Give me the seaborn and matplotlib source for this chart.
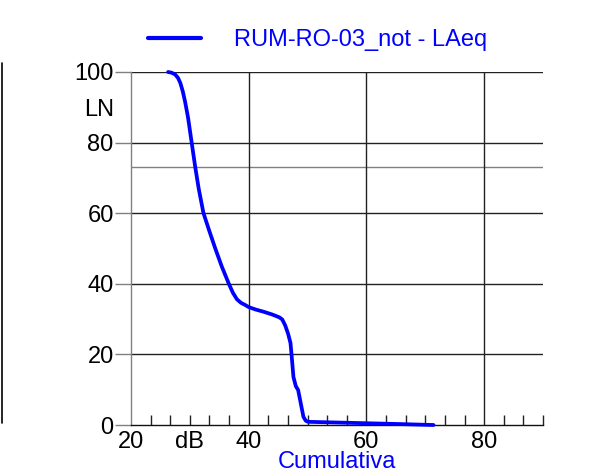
import matplotlib
matplotlib.use("Agg")
import matplotlib.pyplot as plt
from matplotlib.lines import Line2D
import pandas as pd
import seaborn as sns

# cumulative level distribution
db = [26.3, 26.9, 27.5, 28.0, 28.4, 28.8, 29.2, 29.7, 30.3, 30.9, 31.5, 32.3,
      33.3, 34.3, 35.4, 36.6, 37.3, 38.0, 38.7, 39.4, 40.0, 41.2, 42.5, 44.0,
      45.2, 45.7, 46.2, 46.7, 47.1, 47.3, 47.6, 48.0, 48.4, 48.8, 49.3, 49.7,
      50.1, 55.0, 60.0, 66.0, 71.4]
ln = [100.0, 99.8, 99.3, 98.3, 96.8, 94.5, 91.5, 87.0, 80.1, 73.2, 67.0, 60.1,
      55.0, 50.1, 45.0, 40.1, 37.5, 35.6, 34.6, 34.0, 33.4, 32.7, 32.1, 31.3,
      30.5, 29.9, 28.2, 25.8, 23.2, 19.5, 13.6, 11.0, 9.9, 6.5, 2.3, 1.2,
      0.9, 0.7, 0.5, 0.25, 0.0]
series_name = "RUM-RO-03_not - LAeq"

x_major = [20, 40, 60, 80]
x_minor = [23.33, 26.67, 30, 33.33, 36.67, 43.33, 46.67, 50, 53.33, 56.67,
           63.33, 66.67, 70, 73.33, 76.67, 83.33, 86.67, 90]
x_minor_labels = ["", "", "dB"] + [""] * 15
y_major = [0, 20, 40, 60, 80, 100]
ref_level = 73.2

df = pd.DataFrame({"dB": db, "LN": ln, "serie": series_name})

sns.set_style("white")
plt.rcParams["font.family"] = ["Liberation Sans", "DejaVu Sans"]
plt.rcParams["text.color"] = "black"
plt.rcParams["axes.labelcolor"] = "black"

fig = plt.figure(figsize=(6.04, 4.72), dpi=100)
ax = fig.add_axes([131 / 604, 1 - 425 / 472, (543 - 131) / 604, (425 - 72) / 472])

for yv in y_major[1:]:
    ax.axhline(yv, color="#222222", lw=1.0, zorder=1)
ax.axhline(ref_level, color="#808080", lw=1.0, zorder=1)
for xv in x_major[1:]:
    ax.axvline(xv, color="#222222", lw=1.0, zorder=1)

sns.lineplot(data=df, x="dB", y="LN", hue="serie", palette=["#0000ff"],
             sort=False, lw=2.7, ax=ax, zorder=3, clip_on=False)

ax.set_xlim(20, 90)
ax.set_ylim(0, 100)

ax.set_xticks(x_major)
ax.set_xticks(x_minor, labels=x_minor_labels, minor=True)
ax.set_yticks(y_major)
ax.set_yticks([90], labels=["LN"], minor=True)

ax.tick_params(axis="x", which="both", bottom=True, direction="in", length=7,
               width=1, color="#222222", labelsize=17, labelcolor="black", pad=4)
ax.tick_params(axis="x", which="major", length=0)
ax.tick_params(axis="y", which="major", left=True, direction="out", length=11.5,
               width=1, color="#808080", labelsize=17, labelcolor="black", pad=1)
ax.tick_params(axis="y", which="minor", left=True, length=0, labelsize=17,
               labelcolor="black", pad=12.5)

for s in ["top", "right"]:
    ax.spines[s].set_visible(False)
ax.spines["left"].set_color("#808080")
ax.spines["left"].set_linewidth(1.0)
ax.spines["bottom"].set_color("#111111")
ax.spines["bottom"].set_linewidth(1.0)

ax.set_ylabel("")
ax.set_xlabel("Cumulativa", color="#0000ff", fontsize=17, labelpad=-1)

leg = ax.legend(loc="center", bbox_to_anchor=(317.5 / 604, 1 - 40 / 472),
                bbox_transform=fig.transFigure, frameon=False, fontsize=17,
                handlelength=2.25, handletextpad=1.4)
for t in leg.get_texts():
    t.set_color("#0000ff")
for h in leg.get_lines():
    h.set_linewidth(3)

fig.add_artist(Line2D([1.5 / 604, 1.5 / 604], [1 - 63 / 472, 1 - 423 / 472],
                      transform=fig.transFigure, color="black", lw=1.2))

fig.savefig("out.png", dpi=100)
